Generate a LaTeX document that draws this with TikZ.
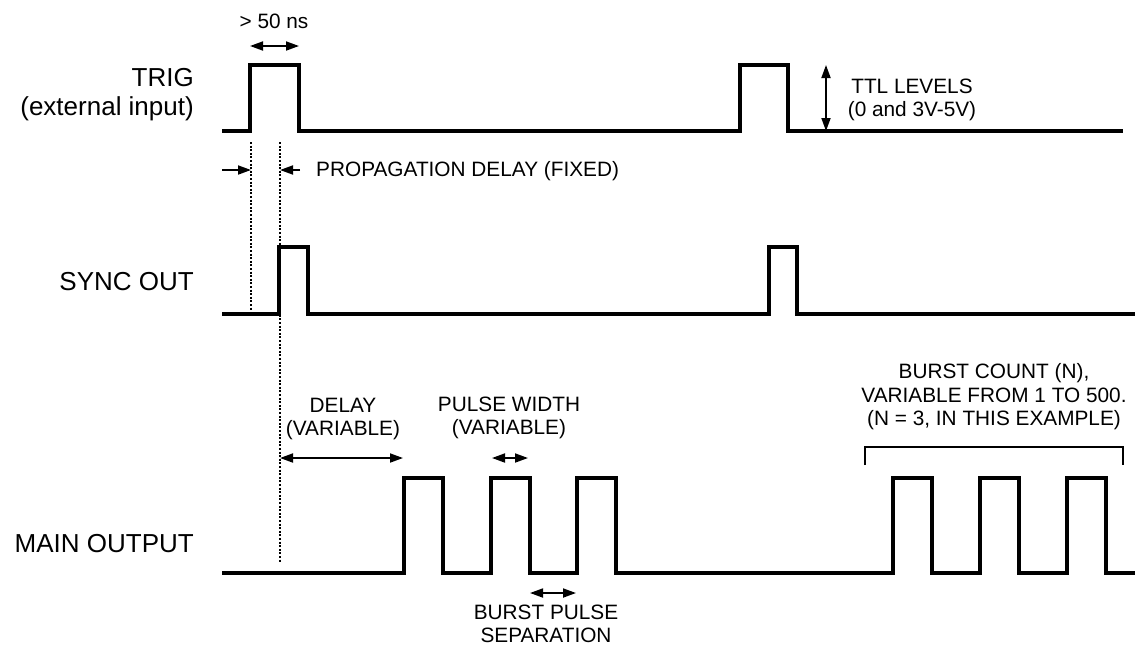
\documentclass[tikz,border=0pt]{standalone}
\usepackage{fontspec}
\setmainfont{Liberation Sans}
\usetikzlibrary{arrows.meta, positioning, calc}

\tikzset{
    signal/.style={line width=3.2pt, line join=miter, line cap=butt},
    dimline/.style={line width=1.8pt, {Triangle[length=13pt,width=9pt]}-{Triangle[length=13pt,width=9pt]}},
    oneway/.style={line width=1.8pt, -{Triangle[length=13pt,width=9pt]}},
    guide/.style={line width=2.4pt, dash pattern=on 2pt off 1.6pt},
    chname/.style={anchor=east, align=right, inner sep=0pt, font=\fontsize{26}{29}\selectfont},
    note/.style={align=center, inner sep=0pt, font=\fontsize{20.8}{23.5}\selectfont}
}

\begin{document}
\begin{tikzpicture}[x=1pt, y=-1pt]
    \useasboundingbox (0,0) rectangle (1135,649);

    % channel names
    \node[chname] at (194,95) (trigname) {TRIG\\(external input)};
    \node[chname] at (194,282) (syncname) {SYNC OUT};
    \node[chname] at (194,544) (mainname) {MAIN OUTPUT};

    % trigger input
    \draw[signal] (222,131) -- (250,131) -- (250,65) -- (299,65) -- (299,131)
        -- (740,131) -- (740,65) -- (788,65) -- (788,131) -- (1123,131);
    % sync out
    \draw[signal] (222,314) -- (279,314) -- (279,247) -- (308,247) -- (308,314)
        -- (769,314) -- (769,247) -- (797,247) -- (797,314) -- (1135,314);
    % main output, two bursts of three
    \draw[signal] (222,573)
        \foreach \t in {404,491,577,893,980,1067} {
            -- (\t,573) -- (\t,478) -- ({\t+39},478) -- ({\t+39},573)
        } -- (1135,573);

    % reference edges
    \coordinate (trigup) at (251,142);
    \coordinate (trigend) at (251,310);
    \coordinate (syncup) at (280,142);
    \coordinate (syncend) at (280,563);
    \draw[guide] (trigup) -- (trigend);
    \draw[guide] (syncup) -- (syncend);

    % > 50 ns
    \coordinate (wa) at (250,46);
    \coordinate (wb) at (299,46);
    \draw[dimline] (wa) -- (wb);
    \node[note] at (274,21) (minwidth) {> 50 ns};

    % ttl levels
    \coordinate (ttltop) at (826,65);
    \coordinate (ttlbot) at (826,131);
    \draw[dimline] (ttltop) -- (ttlbot);
    \node[note] at (912,100) (ttl) {TTL LEVELS\\(0 and 3V-5V)};

    % propagation delay
    \coordinate (pdleft) at (222,170);
    \coordinate (pdright) at (300,170);
    \draw[oneway] (pdleft) -- (trigup |- pdleft);
    \draw[oneway] (pdright) -- (syncup |- pdright);
    \node[note, anchor=west] at (316,171) (propdelay) {PROPAGATION DELAY (FIXED)};

    % delay
    \coordinate (dlend) at (403,458);
    \draw[dimline] (syncup |- dlend) -- (dlend);
    \node[note] at (343,419) (delay) {DELAY\\(VARIABLE)};

    % pulse width
    \coordinate (pwa) at (492,458);
    \coordinate (pwb) at (528,458);
    \draw[dimline] (pwa) -- (pwb);
    \node[note] at (509,418) (width) {PULSE WIDTH\\(VARIABLE)};

    % burst separation
    \coordinate (bsa) at (530,593);
    \coordinate (bsb) at (576,593);
    \draw[dimline] (bsa) -- (bsb);
    \node[note] at (546,624) (separation) {BURST PULSE\\SEPARATION};

    % burst count bracket
    \coordinate (bl) at (865,465);
    \coordinate (br) at (1123,465);
    \draw[line width=1.8pt] (bl) -- ++(0,-18) -| (br);
    \node[note] at (994,397) (count) {BURST COUNT (N),\\VARIABLE FROM 1 TO 500.\\(N = 3, IN THIS EXAMPLE)};
\end{tikzpicture}
\end{document}
